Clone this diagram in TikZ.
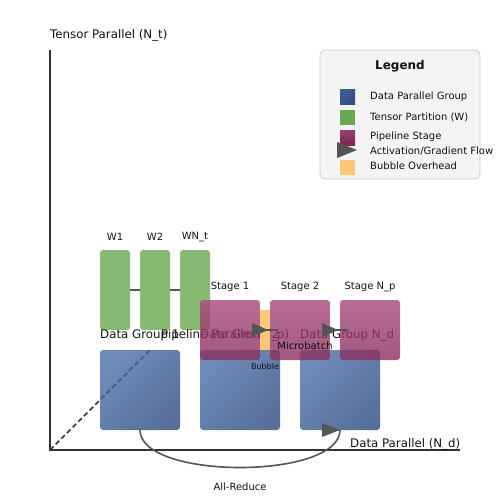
\documentclass[tikz,border=0pt]{standalone}
\usepackage{fontspec}
\setmainfont{DejaVu Sans}
\usetikzlibrary{arrows.meta,calc}
\definecolor{axisgray}{HTML}{333333}
\definecolor{flowgray}{HTML}{555555}
\definecolor{blueA}{HTML}{4A6FA8}
\definecolor{blueB}{HTML}{2E4C80}
\definecolor{greenW}{HTML}{6AA84F}
\definecolor{pinkA}{HTML}{A8487A}
\definecolor{pinkB}{HTML}{8A2E5E}
\definecolor{bubbleor}{HTML}{FCC878}
\definecolor{legfill}{HTML}{F4F4F4}
\definecolor{legdraw}{HTML}{CCCCCC}
\definecolor{txt}{HTML}{111111}
\begin{document}
\begin{tikzpicture}[x=1pt,y=-1pt,
  box/.style={draw=none,inner sep=0pt,outer sep=0pt,rounded corners=3pt,anchor=north west},
  dpbox/.style={box,minimum width=80pt,minimum height=80pt,top color=blueA,bottom color=blueB,shading angle=45,fill opacity=0.8},
  tpbox/.style={box,minimum width=30pt,minimum height=80pt,fill=greenW,fill opacity=0.8},
  ppbox/.style={box,minimum width=60pt,minimum height=60pt,top color=pinkA,bottom color=pinkB,fill opacity=0.8},
  lab/.style={inner sep=0pt,font=\fontsize{11.8}{14}\selectfont,text=txt},
  slab/.style={inner sep=0pt,font=\fontsize{10}{12}\selectfont,text=txt},
  leglab/.style={inner sep=0pt,anchor=west,font=\fontsize{10}{12}\selectfont,text=txt},
  legsq/.style={draw=none,inner sep=0pt,outer sep=0pt,minimum size=15pt,anchor=north west},
  axisline/.style={draw=axisgray,line width=2pt},
  flowline/.style={draw=flowgray,line width=2pt},
  flowhead/.style={fill=flowgray},
]
\useasboundingbox (0,0) rectangle (500,500);

% axes
\coordinate (O) at (50,450);
\coordinate (Ytop) at (50,50);
\coordinate (Xend) at (460,450);
\coordinate (Dend) at (150,350);
\draw[axisline] (Ytop) -- (O) -- (Xend);
\draw[draw=axisgray,line width=1.6pt,dash pattern=on 5pt off 3pt] (O) -- (Dend);
\node[lab,anchor=west] (ytitle) at (50,35) {Tensor Parallel (N\_t)};
\node[lab,anchor=west] (xtitle) at (350,444) {Data Parallel (N\_d)};

% data parallel groups
\node[dpbox] (d1) at (100,350) {};
\node[dpbox] (d2) at (200,350) {};
\node[dpbox] (d3) at (300,350) {};

% tensor partitions
\node[tpbox] (w1) at (100,250) {};
\node[tpbox] (w2) at (140,250) {};
\node[tpbox] (w3) at (180,250) {};
\draw[flowline] (w1.east) -- (w2.west);
\draw[flowline] (w2.east) -- (w3.west);
\node[slab] (w1l) at (115,237) {W1};
\node[slab] (w2l) at (155,237) {W2};
\node[slab] (w3l) at (195,237) {WN\_t};

% labels under pipeline boxes
\node[lab,anchor=west] (g1l) at (100,335) {Data Group 1};
\node[lab,anchor=west] (ppl) at (161,335) {Pipeline Parallel (N\_p)};
\node[lab,anchor=west] (g2l) at (200,335) {Data Group 2};
\node[lab,anchor=west] (g3l) at (300,335) {Data Group N\_d};

% bubble
\node[draw=none,fill=bubbleor,inner sep=0pt,outer sep=0pt,minimum width=10pt,minimum height=40pt,anchor=north west] (bub) at (260,310) {};

% pipeline stages
\node[ppbox] (p1) at (200,300) {};
\node[ppbox] (p2) at (270,300) {};
\node[ppbox] (p3) at (340,300) {};
\node[slab] (s1l) at (230,287) {Stage 1};
\node[slab] (s2l) at (300,287) {Stage 2};
\node[slab] (s3l) at (370,287) {Stage N\_p};

% activation flows
\coordinate (a1e) at ($(p1.east)+(18,0)$);
\draw[flowline] (p1.east) -- (a1e);
\fill[flowhead] ($(p1.east)+(-8,-7)$) -- ($(p1.east)+(8,0)$) -- ($(p1.east)+(-8,7)$) -- cycle;
\coordinate (a2e) at ($(p2.east)+(18,0)$);
\draw[flowline] (p2.east) -- (a2e);
\fill[flowhead] ($(p2.east)+(-8,-7)$) -- ($(p2.east)+(8,0)$) -- ($(p2.east)+(-8,7)$) -- cycle;

\node[slab] (mb) at (305,346) {Microbatch};
\node[inner sep=0pt,font=\fontsize{8}{9}\selectfont,text=txt] (bubl) at (265,367) {Bubble};

% all-reduce
\draw[flowline,line width=1.6pt] (d1.south) .. controls ($(d1.south)+(0,50)$) and ($(d3.south)+(0,50)$) .. (d3.south);
\fill[flowhead] ($(d3.south)+(-18,-7)$) -- ($(d3.south)+(0,0)$) -- ($(d3.south)+(-18,7)$) -- cycle;
\node[slab] (arl) at (240,487) {All-Reduce};

% legend
\node[draw=legdraw,fill=legfill,line width=0.8pt,rounded corners=5pt,inner sep=0pt,outer sep=0pt,minimum width=160pt,minimum height=129pt,anchor=north west] (leg) at (320,50) {};
\node[inner sep=0pt,font=\fontsize{12}{14}\bfseries\selectfont,text=txt] (legt) at (400,66) {Legend};
\node[legsq,top color=blueA!85!black,bottom color=blueB,shading angle=45] (lq1) at (340,90) {};
\node[legsq,fill=greenW] (lq2) at (340,110) {};
\node[legsq,top color=pinkA!90!black,bottom color=pinkB!85!black] (lq3) at (340,130) {};
\node[legsq,fill=bubbleor] (lq5) at (340,160) {};
\coordinate (la) at (357,150);
\fill[flowhead] ($(la)+(-20,-8)$) -- (la) -- ($(la)+(-20,8)$) -- cycle;
\node[leglab] (lt1) at (370,97) {Data Parallel Group};
\node[leglab] (lt2) at (370,117) {Tensor Partition (W)};
\node[leglab] (lt3) at (370,137) {Pipeline Stage};
\node[leglab] (lt4) at (370,151) {Activation/Gradient Flow};
\node[leglab] (lt5) at (370,166) {Bubble Overhead};
\end{tikzpicture}
\end{document}
